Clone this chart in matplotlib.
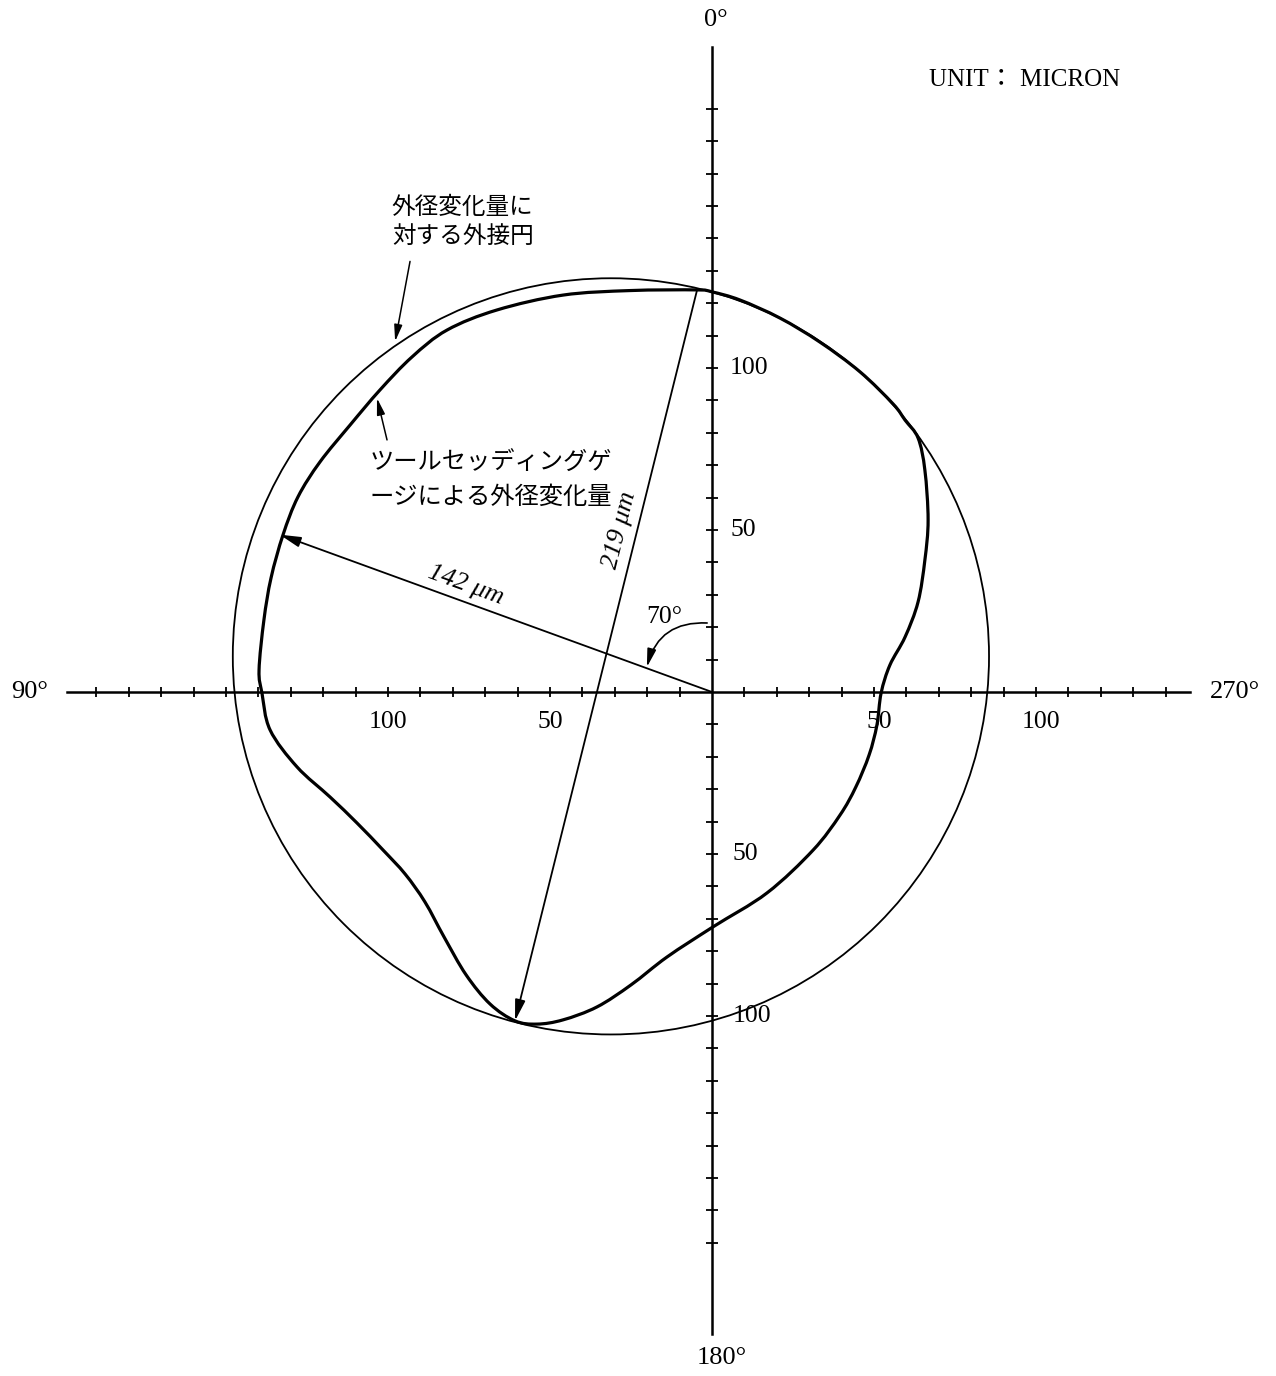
import numpy as np
import matplotlib.pyplot as plt
from matplotlib.path import Path
from matplotlib.patches import PathPatch, Circle, FancyArrowPatch

# ツールセッディングゲージによる外径変化量 (μm), 0°(上)から左回り
prof_x = [0.0, -4.6, -25.3, -46.0, -66.4, -81.8, -92.6, -102.5, -111.7, -121.0,
          -127.8, -132.4, -136.1, -138.3, -139.8, -138.9, -136.4, -128.1, -117.9, -109.6,
          -101.5, -94.7, -88.6, -82.7, -75.9, -68.5, -60.8, -54.0, -46.0, -35.5,
          -25.0, -13.9, 0.3, 17.0, 31.2, 39.5, 44.4, 48.5, 50.9, 52.2,
          54.9, 59.6, 63.6, 65.7, 66.7, 65.7, 63.6, 59.6, 55.9, 45.7,
          33.3, 21.0, 8.6]
prof_y = [123.5, 124.1, 123.9, 122.5, 117.9, 111.7, 103.4, 93.2, 82.4, 71.0,
          60.2, 48.5, 35.2, 22.2, 6.8, -0.3, -11.7, -23.1, -32.4, -40.4,
          -48.8, -56.2, -64.8, -75.6, -87.3, -96.3, -101.5, -102.5, -101.2, -97.2,
          -90.4, -81.8, -72.5, -62.0, -48.8, -38.0, -29.3, -19.4, -10.2, -0.3,
          8.3, 17.0, 27.8, 40.7, 53.1, 68.5, 78.4, 83.9, 88.9, 98.8,
          108.0, 115.4, 121.0]

# 外接円
circ_cx, circ_cy, circ_r = -31.2, 11.0, 116.7

# 最大径 (219 μm) の両端 = 外径変化量の点
dia_top = 1
dia_bot = 26

# 最小方向 142 μm, 70°
min_angle = 70
min_len = 142

# 軸の目盛り
ticks_left = np.arange(10, 200, 10)
ticks_right = np.arange(10, 150, 10)
ticks_up = np.arange(10, 190, 10)
ticks_down = np.arange(10, 180, 10)
label_vals = [50, 100]

S = 3.24  # px / μm
fig = plt.figure(figsize=(12.76, 13.76), dpi=100)
ax = fig.add_axes([0, 0, 1, 1])
ax.set_xlim(-712 / S, 564 / S)
ax.set_ylim(-684 / S, 692 / S)
ax.axis('off')

serif = ['Liberation Serif', 'Noto Sans CJK JP']
jp = ['Noto Sans CJK JP', 'DejaVu Sans']
k = 'black'

# 座標軸
ax.plot([-199, 147.5], [0, 0], color=k, lw=1.8)
ax.plot([0, 0], [-198, 199], color=k, lw=1.8)
ax.vlines(-ticks_left, -1.6, 1.6, color=k, lw=1.3)
ax.vlines(ticks_right, -1.6, 1.6, color=k, lw=1.3)
ax.hlines(ticks_up, -2.0, 2.0, color=k, lw=1.3)
ax.hlines(-ticks_down, -2.0, 2.0, color=k, lw=1.3)

fs = 18.5
for v in label_vals:
    ax.text(-v, -9.3, str(v), fontsize=fs, family=serif, ha='center', va='center')
    ax.text(v + 1.5, -9.3, str(v), fontsize=fs, family=serif, ha='center', va='center')
    ax.text(5.6, v, str(v), fontsize=fs, family=serif, ha='left', va='center')
    ax.text(6.3, -v, str(v), fontsize=fs, family=serif, ha='left', va='center')

ax.text(1.2, 207.5, '0°', fontsize=19, family=serif, ha='center', va='center')
ax.text(-210.5, 0, '90°', fontsize=19, family=serif, ha='center', va='center')
ax.text(161.5, 0, '270°', fontsize=19, family=serif, ha='center', va='center')
ax.text(3.0, -205.5, '180°', fontsize=19, family=serif, ha='center', va='center')
ax.text(67, 189, 'UNIT： MICRON', fontsize=18, family=serif, ha='left', va='center')

# 外接円と外径変化量
ax.add_patch(Circle((circ_cx, circ_cy), circ_r, fill=False, ec=k, lw=1.3))

P = np.column_stack([prof_x, prof_y])
n = len(P)
verts = [P[0]]
codes = [Path.MOVETO]
for i in range(n):
    p0, p1, p2, p3 = P[i - 1], P[i], P[(i + 1) % n], P[(i + 2) % n]
    verts += [p1 + (p2 - p0) / 6, p2 - (p3 - p1) / 6, p2]
    codes += [Path.CURVE4] * 3
ax.add_patch(PathPatch(Path(verts, codes), fill=False, ec=k, lw=2.3))

head = '-|>,head_length=0.9,head_width=0.22'

# 219 μm
a = (prof_x[dia_top], prof_y[dia_top])
b = (prof_x[dia_bot], prof_y[dia_bot])
ax.add_patch(FancyArrowPatch(a, b, arrowstyle=head, mutation_scale=14,
                             lw=1.3, color=k, shrinkA=0, shrinkB=0))
ang219 = np.degrees(np.arctan2(a[1] - b[1], a[0] - b[0]))
ax.text(-28.4, 50.0, '219 μm', fontsize=19, family=serif, style='italic',
        rotation=ang219, rotation_mode='anchor', ha='center', va='center')

# 142 μm
th = np.radians(min_angle)
m = (-min_len * np.sin(th), min_len * np.cos(th))
ax.add_patch(FancyArrowPatch((0, 0), m, arrowstyle=head, mutation_scale=14,
                             lw=1.3, color=k, shrinkA=0, shrinkB=0))
ang142 = np.degrees(np.arctan2(m[1], m[0])) - 180
ax.text(-75.9, 33.0, '142 μm', fontsize=19, family=serif, style='italic',
        rotation=ang142, rotation_mode='anchor', ha='center', va='center')

# 70°
ax.add_patch(FancyArrowPatch((-1.5, 21.3), (-20.1, 7.7), arrowstyle=head,
                             mutation_scale=12, lw=1.2, color=k,
                             connectionstyle='arc3,rad=0.4', shrinkA=0, shrinkB=0))
ax.text(-14.8, 23.1, '70°', fontsize=fs, family=serif, ha='center', va='center')

# 説明
ax.text(-98.8, 153.0, '外径変化量に\n対する外接円', fontsize=17, family=jp,
        ha='left', va='top', linespacing=1.3)
ax.add_patch(FancyArrowPatch((-93.2, 132.9), (-97.8, 108.2), arrowstyle=head,
                             mutation_scale=11, lw=1.1, color=k, shrinkA=0, shrinkB=0))
ax.text(-105.6, 74.8, 'ツールセッディングゲ\nージによる外径変化量', fontsize=17.5,
        family=jp, ha='left', va='top', linespacing=1.4)
ax.add_patch(FancyArrowPatch((-100.3, 77.8), (-103.4, 90.7), arrowstyle=head,
                             mutation_scale=11, lw=1.1, color=k, shrinkA=0, shrinkB=0))

plt.savefig('out.png', dpi=100)
